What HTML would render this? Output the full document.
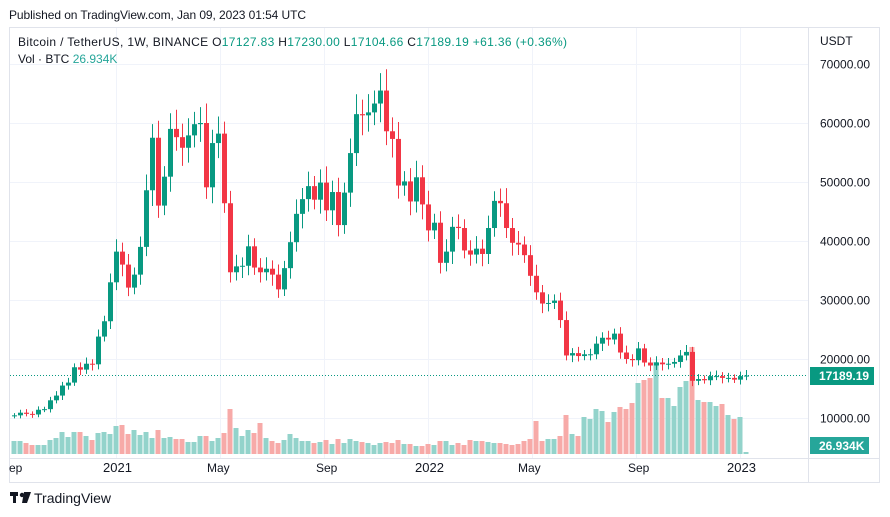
<!DOCTYPE html>
<html><head><meta charset="utf-8"><style>
body{margin:0;background:#fff;width:890px;height:517px;overflow:hidden;font-family:"Liberation Sans",sans-serif;}
svg{position:absolute;left:0;top:0}
</style></head><body>
<svg id="s" width="890" height="517" xmlns="http://www.w3.org/2000/svg" font-family="Liberation Sans, sans-serif">
<text x="9" y="19" font-size="12" fill="#131722" textLength="297">Published on TradingView.com, Jan 09, 2023 01:54 UTC</text>
<rect x="9.5" y="27.5" width="870" height="455" fill="none" stroke="#e0e3eb"/>
<line x1="808.5" y1="28" x2="808.5" y2="482" stroke="#e0e3eb"/>
<line x1="10" y1="458.5" x2="880" y2="458.5" stroke="#e0e3eb"/>
<g id="grid" stroke="#f0f3fa"></g>
<g id="vol"></g>
<g id="cand"></g>
<line x1="10" y1="375.5" x2="808" y2="375.5" stroke="#089981" stroke-dasharray="1,2"/>
<text x="18" y="46" font-size="12" fill="#131722" textLength="549">Bitcoin / TetherUS, 1W, BINANCE   <tspan fill="#131722">O</tspan><tspan fill="#089981">17127.83</tspan>   <tspan>H</tspan><tspan fill="#089981">17230.00</tspan>   <tspan>L</tspan><tspan fill="#089981">17104.66</tspan>   <tspan>C</tspan><tspan fill="#089981">17189.19 +61.36 (+0.36%)</tspan></text>
<text x="18" y="63" font-size="12" fill="#131722">Vol · BTC  <tspan fill="#26a69a">26.934K</tspan></text>
<text x="820" y="45" font-size="12" fill="#131722">USDT</text>
<g id="ax" font-size="12" fill="#131722"></g>
<rect x="810" y="367" width="64" height="18" fill="#089981"/>
<text x="819" y="380" font-size="12" font-weight="bold" fill="#fff">17189.19</text>
<rect x="810" y="437" width="59" height="17" fill="#26a69a"/>
<text x="819" y="450" font-size="12" font-weight="bold" fill="#fff">26.934K</text>
<g font-size="12" fill="#131722">
<text x="9" y="472">ep</text>
<text x="103" y="472" font-size="13">2021</text>
<text x="207" y="472">May</text>
<text x="316" y="472">Sep</text>
<text x="415" y="472" font-size="13">2022</text>
<text x="518" y="472">May</text>
<text x="628" y="472">Sep</text>
<text x="727" y="472" font-size="13">2023</text>
</g>
<g fill="#131722"><rect x="10" y="492" width="8" height="4"/><rect x="13" y="492" width="3" height="11"/><circle cx="22" cy="495" r="2.2"/><polygon points="24,492 31,492 27,503 22,503"/></g>
<text x="34" y="503" font-size="14" fill="#131722">TradingView</text>
</svg>
<script>
var C=[10.45,10.9,10.7,10.6,11.4,11.5,13.0,13.8,15.5,16.0,18.6,18.2,19.2,19.1,23.8,26.4,33.0,38.2,36.0,32.1,34.3,39.0,48.6,57.5,46.0,50.9,59.0,57.6,55.8,57.9,59.8,60.0,49.1,56.6,58.2,46.4,34.7,35.7,35.8,39.1,35.5,34.7,35.3,34.3,31.8,35.4,39.8,44.6,47.1,49.3,47.0,49.9,45.2,48.3,42.7,48.2,54.9,61.5,61.3,61.8,63.3,65.5,58.6,57.3,49.4,50.1,46.7,50.8,46.2,41.8,43.1,36.3,38.2,42.4,42.2,38.4,37.7,38.7,37.8,42.2,46.8,46.4,42.2,39.7,39.4,37.6,34.1,31.3,29.4,29.5,29.9,26.6,20.6,21.0,20.5,20.8,20.8,22.6,23.6,23.3,24.3,21.1,20.0,19.8,21.8,19.4,18.9,19.4,19.1,19.2,19.5,20.6,21.2,16.3,16.6,16.4,17.1,17.1,16.8,16.8,16.5,17.1,17.19];
var V=[13,13,11,9,9,9,14,16,22,17,22,22,18,14,21,22,20,28,29,20,24,19,22,16,24,16,17,15,15,12,12,18,18,13,16,21,45,26,
18,24,21,31,16,13,11,14,20,16,13,13,11,12,14,10,15,11,15,13,12,11,9,11,12,11,14,10,10,8,8,10,9,13,13,9,11,9,14,13,13,12,11,
11,10,9,10,13,15,33,13,15,15,18,39,20,18,37,35,45,43,32,42,47,45,51,71,74,76,92,56,56,48,67,73,107,54,52,52,48,50,39,35,37,2];
var NS="http://www.w3.org/2000/svg";
function el(g,t,a){var e=document.createElementNS(NS,t);for(var k in a)e.setAttribute(k,a[k]);document.getElementById(g).appendChild(e);return e;}
function py(p){return 418-(p-10)*5.9;}
for(var i=1;i<=7;i++){var y=418-(i-1)*59+0.5;el("grid","line",{x1:10,y1:y,x2:808,y2:y});var t=el("ax","text",{x:820,y:y+4});t.textContent=(i*10000)+".00";}
[116,220,324,428,532,636,740].forEach(function(x){el("grid","line",{x1:x+.5,y1:28,x2:x+.5,y2:458});});
var n=C.length;
for(var i=0;i<n;i++){
 var x=746-(n-1-i)*6;var o=i?C[i-1]:10.3;var c=C[i];var up=c>=o;
 var col=up?"#089981":"#f23645";
 var h=V[i]||10;
 el("vol","rect",{x:x-2.5,y:454-h,width:5,height:h,fill:up?"#93d3cb":"#f7aaa8"});
 var hi=Math.max(o,c)*(1+0.035+0.02*((i*7)%5)/4),lo=Math.min(o,c)*(1-0.035-0.02*((i*3)%5)/4);
 el("cand","line",{x1:x+.5,y1:py(hi),x2:x+.5,y2:py(lo),stroke:col});
 var y1=py(Math.max(o,c)),y2=py(Math.min(o,c));
 el("cand","rect",{x:x-2,y:y1,width:5,height:Math.max(1,y2-y1),fill:col});
}
</script>
</body></html>
